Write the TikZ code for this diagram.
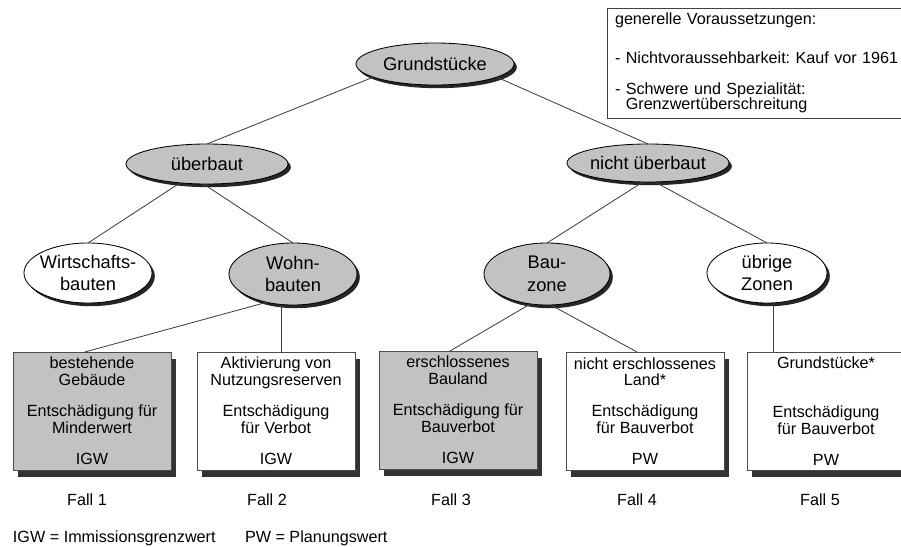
\documentclass[tikz,border=0pt]{standalone}
\usepackage{fontspec}
\setmainfont{Liberation Sans}
\usetikzlibrary{shapes.geometric,shadows}
\frenchspacing

\begin{document}
\begin{tikzpicture}[x=0.025cm,y=-0.025cm,inner sep=0pt,outer sep=0pt,line width=0.6pt,
oval/.style={draw,ellipse,fill=white,align=center,inner xsep=-0.2cm,font=\fontsize{13}{16}\selectfont,
  drop shadow={shadow xshift=0.07cm,shadow yshift=-0.08cm,fill=black!85,opacity=1}},
ovalgray/.style={oval,fill=black!24},
fallbox/.style={draw=black!70,rectangle,fill=white,minimum width=3.95cm,minimum height=2.95cm,align=center,
  font=\fontsize{11.5}{12}\selectfont,drop shadow={shadow xshift=0.12cm,shadow yshift=-0.17cm,fill=black!80,opacity=1}},
fallgray/.style={fallbox,fill=black!24},
txt/.style={font=\fontsize{11.5}{12}\selectfont},
ast/.style={draw=black!75}]
\useasboundingbox (0,0) rectangle (901,546);

\draw (435,64) node[ovalgray,minimum width=3.95cm,minimum height=1.05cm] (grund) {Grundstücke};
\draw (207,164) node[ovalgray,minimum width=4.05cm,minimum height=1cm] (ueber) {überbaut};
\draw (648,163) node[ovalgray,minimum width=4.05cm,minimum height=0.95cm] (nicht) {nicht überbaut};
\draw (88,273) node[oval,minimum width=3.2cm,minimum height=1.5cm] (wirt) {Wirtschafts-\\bauten};
\draw (293,274) node[ovalgray,minimum width=3.2cm,minimum height=1.55cm] (wohn) {Wohn-\\bauten};
\draw (547,274) node[ovalgray,minimum width=3.15cm,minimum height=1.55cm] (bau) {Bau-\\zone};
\draw (767,273) node[oval,minimum width=3cm,minimum height=1.5cm] (ub) {übrige\\Zonen};

\draw (92,411) node[fallgray] (box1) {bestehende\\Gebäude\\[10pt]Entschädigung für\\Minderwert\\[10pt]IGW};
\draw (276,411) node[fallbox] (box2) {Aktivierung von\\Nutzungsreserven\\[10pt]Entschädigung\\für Verbot\\[10pt]IGW};
\draw (458,410) node[fallgray] (box3) {erschlossenes\\Bauland\\[10pt]Entschädigung für\\Bauverbot\\[10pt]IGW};
\draw (645,411) node[fallbox] (box4) {nicht erschlossenes\\Land*\\[10pt]Entschädigung\\für Bauverbot\\[10pt]PW};
\draw (826,411) node[fallbox] (box5) {Grundstücke*\\[22.8pt]Entschädigung\\für Bauverbot\\[10pt]PW};

\draw[ast] (grund.192) -- (ueber.north);
\draw[ast] (grund.348) -- (nicht.north);
\draw[ast] (ueber.215) -- (wirt.north);
\draw[ast] (ueber.260) -- (wohn.north);
\draw[ast] (nicht.255) -- (bau.north);
\draw[ast] (nicht.290) -- (ub.north);
\draw[ast] (wohn.227) -- ([xshift=-0.18cm]box1.north);
\draw[ast] (wohn.250) -- (wohn.250 |- box2.north);
\draw[ast] (bau.241) -- ([xshift=-0.2cm]box3.north);
\draw[ast] (bau.277) -- ([xshift=-0.2cm]box4.north);
\draw[ast] (ub.283) -- (ub.283 |- box5.north);

\draw (87,500) node[txt] (fall1) {Fall 1};
\draw (267,500) node[txt] (fall2) {Fall 2};
\draw (451,500) node[txt] (fall3) {Fall 3};
\draw (637,500) node[txt] (fall4) {Fall 4};
\draw (820,500) node[txt] (fall5) {Fall 5};

\draw (607,8) node[draw=black!75,anchor=north west,minimum width=7.6cm,minimum height=2.75cm,text width=7.2cm,
  inner xsep=0.2cm,align=left,font=\fontsize{11.5}{11}\selectfont] (vor) {generelle Voraussetzungen:\\[16.5pt]- Nichtvoraussehbarkeit: Kauf vor 1961\\[11pt]- Schwere und Spezialität:\\\phantom{- }Grenzwertüberschreitung};

\draw (13,538) node[txt,anchor=west] (igw) {IGW = Immissionsgrenzwert};
\draw (245,538) node[txt,anchor=west] (pw) {PW = Planungswert};
%\draw (607,8) rectangle (905,118);
\end{tikzpicture}
\end{document}
